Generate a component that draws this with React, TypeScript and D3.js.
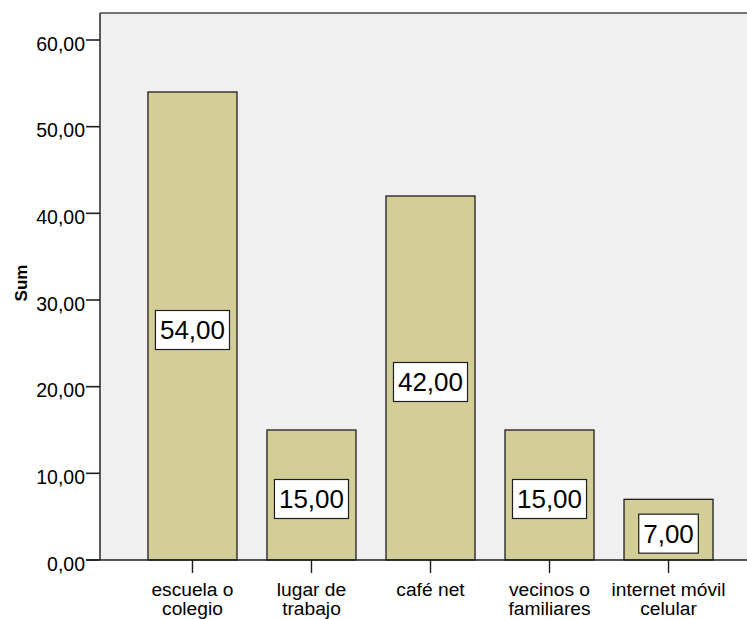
import React from "react";
import * as d3 from "d3";

// Sum of responses per place of internet access
const categories: string[][] = [
  ["escuela o", "colegio"],
  ["lugar de", "trabajo"],
  ["café net"],
  ["vecinos o", "familiares"],
  ["internet móvil", "celular"],
];
const values: number[] = [54, 15, 42, 15, 7];
const yTicks: number[] = [0, 10, 20, 30, 40, 50, 60];

const W = 747;
const H = 619;
const FONT = "'Liberation Sans', Arial, Helvetica, sans-serif";

const fmt = (v: number) => v.toFixed(2).replace(".", ",");

// rough Liberation Sans advance widths for the value labels
const textWidth = (s: string, size: number) =>
  s.split("").reduce((acc, ch) => acc + (ch === "," || ch === "." ? 0.278 : 0.556), 0) * size;

export default function App() {
  const left = 100;
  const top = 13;
  const bottom = 560;

  const keys = categories.map((c) => c.join(" "));
  const x = d3
    .scaleBand<string>()
    .domain(keys)
    .range([left, 761])
    .paddingInner(0.252)
    .paddingOuter(0.403);
  const y = d3.scaleLinear().domain([0, 60]).range([bottom, 40]);

  const labelSize = 26;

  return (
    <svg
      width={W}
      height={H}
      style={{ position: "absolute", left: 0, top: 0, display: "block", background: "#fff" }}
      fontFamily={FONT}
    >
      {/* plot area */}
      <rect x={left} y={top} width={W - left + 5} height={bottom - top} fill="#f0f0f0" />
      <line x1={left} x2={W} y1={top} y2={top} stroke="#4a4a4a" strokeWidth={1.6} />
      <line x1={left} x2={left} y1={top} y2={bottom} stroke="#333" strokeWidth={1.6} />

      {/* bars */}
      {values.map((v, i) => (
        <rect
          key={keys[i]}
          x={x(keys[i])!}
          y={y(v)}
          width={x.bandwidth()}
          height={bottom - y(v)}
          fill="#d3ce98"
          stroke="#1e1e1e"
          strokeWidth={1.3}
        />
      ))}

      {/* value labels */}
      {values.map((v, i) => {
        const s = fmt(v);
        const w = textWidth(s, labelSize) + 9;
        const cx = x(keys[i])! + x.bandwidth() / 2;
        const cy = y(v / 2) + 4;
        return (
          <g key={"lab" + i}>
            <rect
              x={cx - w / 2}
              y={cy - 19.5}
              width={w}
              height={39}
              fill="#fff"
              stroke="#1e1e1e"
              strokeWidth={1.2}
            />
            <text x={cx} y={cy + 9.3} textAnchor="middle" fontSize={labelSize} fill="#000">
              {s}
            </text>
          </g>
        );
      })}

      {/* x axis */}
      <line x1={86} x2={W} y1={bottom} y2={bottom} stroke="#1e1e1e" strokeWidth={1.6} />
      {keys.map((k, i) => {
        const cx = x(k)! + x.bandwidth() / 2;
        return (
          <g key={"xt" + i}>
            <line x1={cx} x2={cx} y1={bottom} y2={bottom + 13} stroke="#1e1e1e" strokeWidth={1.4} />
            {categories[i].map((line, j) => (
              <text
                key={j}
                x={cx}
                y={596 + j * 19}
                textAnchor="middle"
                fontSize={19.2}
                fill="#000"
              >
                {line}
              </text>
            ))}
          </g>
        );
      })}

      {/* y axis */}
      {yTicks.map((t) => (
        <g key={"yt" + t}>
          <line x1={86} x2={left} y1={y(t)} y2={y(t)} stroke="#1e1e1e" strokeWidth={1.6} />
          <text x={85} y={y(t) + 10.7} textAnchor="end" fontSize={19.5} fill="#000">
            {fmt(t)}
          </text>
        </g>
      ))}
      <text
        transform={`translate(27,283) rotate(-90)`}
        textAnchor="middle"
        fontSize={17}
        fontWeight="bold"
        fill="#000"
      >
        Sum
      </text>
    </svg>
  );
}
